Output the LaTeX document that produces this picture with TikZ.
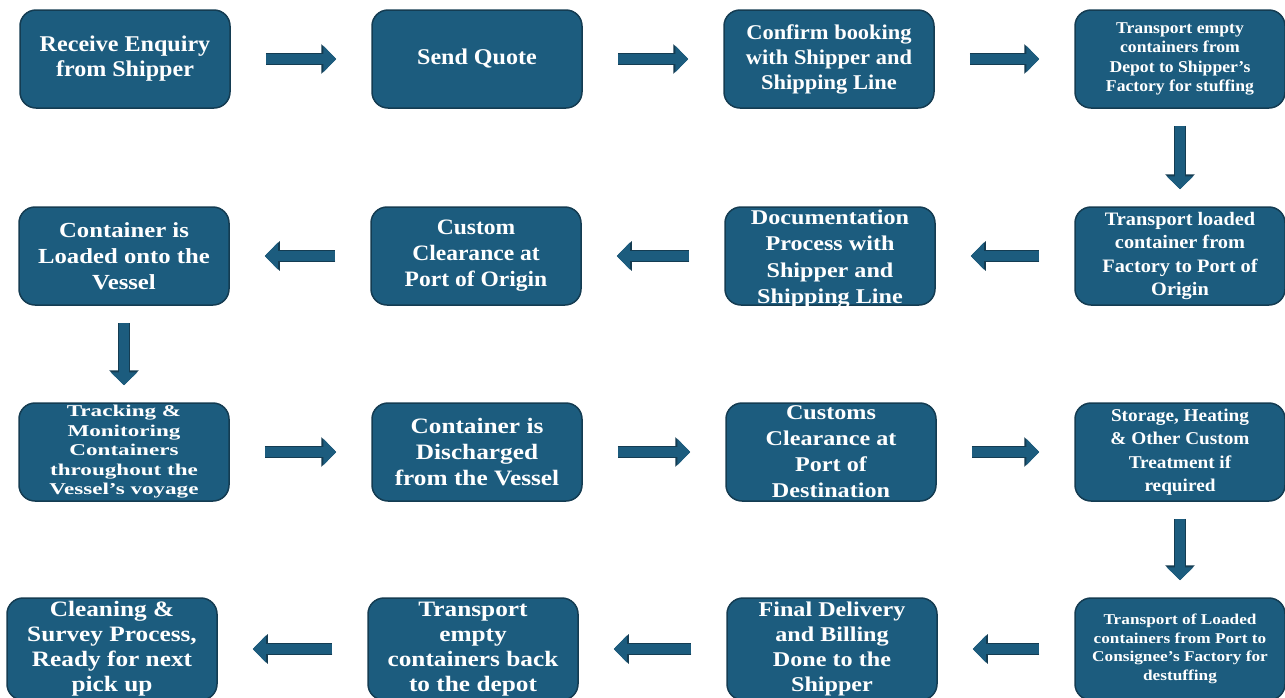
\documentclass[tikz,border=0pt]{standalone}
\usepackage{fontspec}
\setmainfont{Liberation Serif}
\newfontfamily\stA[FakeStretch=1.07]{Liberation Serif}
\newfontfamily\stB[FakeStretch=1.15]{Liberation Serif}
\newfontfamily\stC[FakeStretch=1.4]{Liberation Serif}
\usetikzlibrary{arrows.meta}
\definecolor{boxfill}{HTML}{1C5C7E}
\definecolor{boxline}{HTML}{143C52}
\newcommand\boxfont[3]{#1\fontsize{#2}{#3}\selectfont\bfseries}
\tikzset{
  stage/.style={draw=boxline, line width=1.5pt, fill=boxfill, rounded corners=16pt,
    minimum width=210pt, minimum height=98pt, inner sep=0pt},
  lastrow/.style={minimum height=102pt},
  caption/.style={text=white, align=center, inner sep=0pt},
  flow/.style={draw=boxfill, line width=10pt, -{Triangle[width=26pt,length=13pt]},
    preaction={draw=boxline, line width=12.5pt, -{Triangle[width=29pt,length=15pt]}}},
  hflow/.style={flow, shorten <=35pt, shorten >=35pt},
  vflow/.style={flow, shorten <=17pt, shorten >=17pt}
}
\begin{document}
\begin{tikzpicture}[x=1pt,y=-1pt]
\useasboundingbox (0,0) rectangle (1285,697);
% row 1
\node[stage] (r1c1) at (125,59) {};
\node[stage] (r1c2) at (477,59) {};
\node[stage] (r1c3) at (829,59) {};
\node[stage] (r1c4) at (1180,59) {};
% row 2
\node[stage] (r2c1) at (124,256) {};
\node[stage] (r2c2) at (476,256) {};
\node[stage] (r2c3) at (830,256) {};
\node[stage] (r2c4) at (1180,256) {};
% row 3
\node[stage] (r3c1) at (124,452) {};
\node[stage] (r3c2) at (477,452) {};
\node[stage] (r3c3) at (831,452) {};
\node[stage] (r3c4) at (1180,452) {};
% row 4
\node[stage,lastrow] (r4c1) at (112,649) {};
\node[stage,lastrow] (r4c2) at (473,649) {};
\node[stage,lastrow] (r4c3) at (832,649) {};
\node[stage,lastrow] (r4c4) at (1180,649) {};

% texts
\node[caption, font=\boxfont{\stA}{22.5}{25}] (t11) at (r1c1) {Receive Enquiry\\from Shipper};
\node[caption, font=\boxfont{\stA}{22.5}{25}] (t12) at (r1c2) {Send Quote};
\node[caption, font=\boxfont{\stA}{21}{25}] (t13) at (r1c3) {Confirm booking\\with Shipper and\\Shipping Line};
\node[caption, font=\boxfont{\stA}{16.5}{19.5}] (t14) at (r1c4) {Transport empty\\containers from\\Depot to Shipper’s\\Factory for stuffing};

\node[caption, font=\boxfont{\stB}{21.5}{26}] (t21) at (r2c1) {Container is\\Loaded onto the\\Vessel};
\node[caption, font=\boxfont{\stA}{22}{26}] (t22) at (r2c2) {Custom\\Clearance at\\Port of Origin};
\node[caption, font=\boxfont{\stB}{21}{26.5}] (t23) at ([yshift=-3pt]r2c3.center) {Documentation\\Process with\\Shipper and\\Shipping Line};
\node[caption, font=\boxfont{\stA}{19}{23.5}] (t24) at (r2c4) {Transport loaded\\container from\\Factory to Port of\\Origin};

\node[caption, font=\boxfont{\stC}{16.5}{19.5}] (t31) at (r3c1) {Tracking \&\\Monitoring\\Containers\\throughout the\\Vessel’s voyage};
\node[caption, font=\boxfont{\stB}{22}{26}] (t32) at (r3c2) {Container is\\Discharged\\from the Vessel};
\node[caption, font=\boxfont{\stB}{21}{26}] (t33) at (r3c3) {Customs\\Clearance at\\Port of\\Destination};
\node[caption, font=\boxfont{\stA}{18}{23.5}] (t34) at (r3c4) {Storage, Heating\\\& Other Custom\\Treatment if\\required};

\node[caption, font=\boxfont{\stB}{22}{25}] (t41) at (r4c1) {Cleaning \&\\Survey Process,\\Ready for next\\pick up};
\node[caption, font=\boxfont{\stB}{22}{25}] (t42) at (r4c2) {Transport\\empty\\containers back\\to the depot};
\node[caption, font=\boxfont{\stB}{21}{25}] (t43) at (r4c3) {Final Delivery\\and Billing\\Done to the\\Shipper};
\node[caption, font=\boxfont{\stB}{15}{18.5}] (t44) at (r4c4) {Transport of Loaded\\containers from Port to\\Consignee’s Factory for\\destuffing};

% connectors
\draw[hflow] (r1c1) -- (r1c2);
\draw[hflow] (r1c2) -- (r1c3);
\draw[hflow] (r1c3) -- (r1c4);
\draw[vflow] (r1c4) -- (r2c4);
\draw[hflow] (r2c4) -- (r2c3);
\draw[hflow] (r2c3) -- (r2c2);
\draw[hflow] (r2c2) -- (r2c1);
\draw[vflow] (r2c1) -- (r3c1);
\draw[hflow] (r3c1) -- (r3c2);
\draw[hflow] (r3c2) -- (r3c3);
\draw[hflow] (r3c3) -- (r3c4);
\draw[vflow] (r3c4) -- (r4c4);
\draw[hflow] (r4c4) -- (r4c3);
\draw[hflow] (r4c3) -- (r4c2);
\draw[hflow] (r4c2) -- (r4c1);
\end{tikzpicture}
\end{document}
